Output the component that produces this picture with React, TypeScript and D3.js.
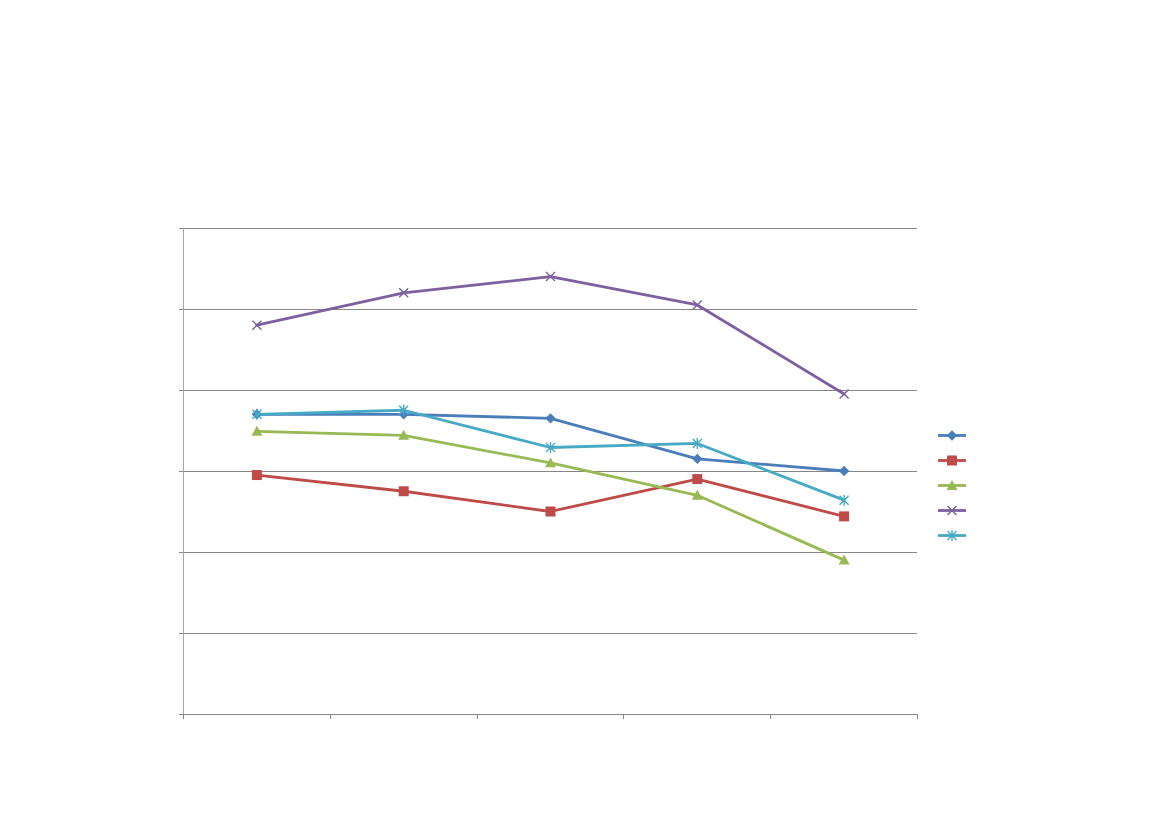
import React from "react";
import * as d3 from "d3";

const categories = ["C1", "C2", "C3", "C4", "C5"];
const seriesNames = ["S1", "S2", "S3", "S4", "S5"];
const seriesA = [3.7, 3.7, 3.65, 3.15, 3.0];
const seriesB = [2.95, 2.75, 2.5, 2.9, 2.44];
const seriesC = [3.49, 3.44, 3.1, 2.7, 1.9];
const seriesD = [4.8, 5.2, 5.4, 5.05, 3.95];
const seriesE = [3.7, 3.75, 3.29, 3.34, 2.64];
const yTicks = [0, 1, 2, 3, 4, 5, 6];

const colors = ["#4A7EBB", "#BE4B48", "#98B954", "#7D60A0", "#46AAC5"];
const markers = ["diamond", "square", "triangle", "x", "star"];

function Marker({ type, x, y, color }: { type: string; x: number; y: number; color: string }) {
  if (type === "diamond") {
    const s = 5.2;
    return <path d={`M${x},${y - s}L${x + s},${y}L${x},${y + s}L${x - s},${y}Z`} fill={color} />;
  }
  if (type === "square") {
    const s = 5;
    return <rect x={x - s} y={y - s} width={2 * s} height={2 * s} fill={color} />;
  }
  if (type === "triangle") {
    const s = 5.5;
    return <path d={`M${x},${y - s}L${x + s},${y + s * 0.8}L${x - s},${y + s * 0.8}Z`} fill={color} />;
  }
  if (type === "x") {
    const s = 4.5;
    return (
      <path d={`M${x - s},${y - s}L${x + s},${y + s}M${x - s},${y + s}L${x + s},${y - s}`} stroke={color} strokeWidth={1.4} fill="none" />
    );
  }
  const s = 4.5;
  return (
    <path
      d={`M${x - s},${y - s}L${x + s},${y + s}M${x - s},${y + s}L${x + s},${y - s}M${x},${y - s - 1}L${x},${y + s + 1}`}
      stroke={color}
      strokeWidth={1.4}
      fill="none"
    />
  );
}

export default function App() {
  const W = 1169;
  const H = 827;
  const left = 183;
  const right = 917;
  const top = 228;
  const bottom = 714;
  const x = d3.scaleBand().domain(categories).range([left, right]);
  const y = d3.scaleLinear().domain([0, 6]).range([bottom, top]);
  const all = [seriesA, seriesB, seriesC, seriesD, seriesE];
  const cx = (i: number) => (x(categories[i]) as number) + x.bandwidth() / 2 + 0.5;
  const line = d3
    .line<number>()
    .x((_, i) => cx(i))
    .y((d) => y(d));
  const boundaries = categories.map((c) => x(c) as number).concat([right]);
  const legendX = 938;
  const legendY0 = 435.5;
  const legendStep = 25;

  return (
    <svg
      width={W}
      height={H}
      style={{ position: "absolute", left: 0, top: 0, display: "block", background: "#fff" }}
    >
      {yTicks.map((t) => (
        <g key={t}>
          {t > 0 && (
            <line x1={left} x2={right} y1={Math.round(y(t)) + 0.5} y2={Math.round(y(t)) + 0.5} stroke="#868686" strokeWidth={1} />
          )}
          <line x1={left - 4} x2={left} y1={Math.round(y(t)) + 0.5} y2={Math.round(y(t)) + 0.5} stroke="#868686" strokeWidth={1} />
        </g>
      ))}
      <line x1={left + 0.5} x2={left + 0.5} y1={top} y2={bottom + 1} stroke="#a6a6a6" strokeWidth={1} />
      <line x1={left} x2={right} y1={bottom + 0.5} y2={bottom + 0.5} stroke="#868686" strokeWidth={1} />
      {boundaries.map((b, i) => (
        <line key={i} x1={Math.round(b) + 0.5} x2={Math.round(b) + 0.5} y1={bottom} y2={bottom + 5} stroke="#868686" strokeWidth={1} />
      ))}
      {all.map((s, si) => (
        <g key={seriesNames[si]}>
          <path d={line(s) || ""} fill="none" stroke={colors[si]} strokeWidth={2.8} strokeLinejoin="round" strokeLinecap="round" />
          {s.map((v, i) => (
            <Marker key={i} type={markers[si]} x={cx(i)} y={y(v)} color={colors[si]} />
          ))}
        </g>
      ))}
      {seriesNames.map((n, si) => {
        const ly = legendY0 + si * legendStep;
        return (
          <g key={n}>
            <line x1={legendX} x2={legendX + 28} y1={ly} y2={ly} stroke={colors[si]} strokeWidth={2.8} />
            <Marker type={markers[si]} x={legendX + 14} y={ly} color={colors[si]} />
          </g>
        );
      })}
    </svg>
  );
}
